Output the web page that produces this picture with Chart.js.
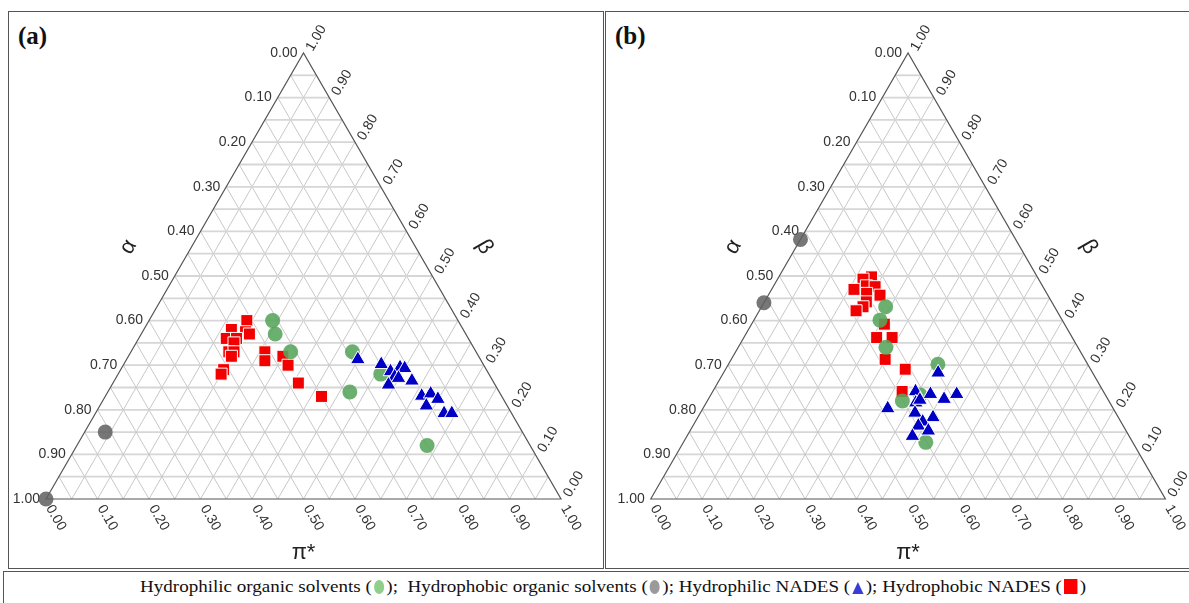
<!DOCTYPE html>
<html>
<head>
<meta charset="utf-8">
<script src="https://cdn.jsdelivr.net/npm/chart.js@4.4.0/dist/chart.umd.min.js"></script>
<style>
  body { margin: 0; width: 1189px; height: 603px; position: relative; overflow: hidden; background: #fff; }
  .panel { position: absolute; border: 1.5px solid #555; box-sizing: border-box; }
  #panelA { left: 8px; top: 11px; width: 596px; height: 558px; }
  #panelB { left: 605px; top: 11px; width: 600px; height: 558px; }
  .tag { position: absolute; top: 22px; font: bold 25px "Liberation Serif", serif; color: #111; }
  canvas { position: absolute; top: 0; }
  #legend { position: absolute; left: 3px; top: 571px; width: 1200px; height: 40px; border: 1px solid #555;
            box-sizing: border-box; font: 17px "Liberation Serif", serif; color: #111; }
  #legend span.txt { position: absolute; left: 136px; top: 5px; white-space: nowrap;
                     transform: scaleX(1.12); transform-origin: 0 50%; }
  .sym { display: inline-block; vertical-align: -2px; margin: 0 2px; }
  .dot { width: 9px; height: 14px; border-radius: 50%; }
  .tri { width: 0; height: 0; border-left: 5px solid transparent; border-right: 5px solid transparent; border-bottom: 12px solid #3b3bd8; }
  .sq { width: 12px; height: 15px; background: #f00; }
</style>
</head>
<body>
<div class="panel" id="panelA"></div>
<div class="panel" id="panelB"></div>
<div class="tag" style="left:18px">(a)</div>
<div class="tag" style="left:615px">(b)</div>
<canvas id="chartA" width="604" height="570" style="left:0"></canvas>
<canvas id="chartB" width="585" height="570" style="left:604px"></canvas>
<div id="legend"><span class="txt">Hydrophilic organic solvents (<i class="sym dot" style="background:#8fcf8a"></i>);&nbsp; Hydrophobic organic solvents (<i class="sym dot" style="background:#9a9a9a"></i>); Hydrophilic NADES (<i class="sym tri"></i>); Hydrophobic NADES (<i class="sym sq"></i>)</span></div>
<script>
// each point: [beta, piStar]  (alpha = 1 - beta - piStar)
const tickValues = [0, 0.1, 0.2, 0.3, 0.4, 0.5, 0.6, 0.7, 0.8, 0.9, 1];
const tickLabels = ["0.00", "0.10", "0.20", "0.30", "0.40", "0.50", "0.60", "0.70", "0.80", "0.90", "1.00"];

// panel (a)
const aHydrophilicSolvents = [[0.40, 0.24], [0.37, 0.26], [0.33, 0.31], [0.33, 0.43], [0.28, 0.51], [0.24, 0.47], [0.12, 0.68]];
const aHydrophobicSolvents = [[0.15, 0.04], [0.00, 0.00]];
const aHydrophilicNADES = [[0.313, 0.449], [0.302, 0.500], [0.286, 0.526], [0.295, 0.540], [0.293, 0.550], [0.274, 0.540],
  [0.271, 0.549], [0.256, 0.537], [0.265, 0.578], [0.231, 0.614], [0.236, 0.629], [0.224, 0.649], [0.209, 0.634],
  [0.192, 0.677], [0.192, 0.692]];
const aHydrophobicNADES = [[0.40, 0.19], [0.38, 0.17], [0.375, 0.20], [0.37, 0.21], [0.36, 0.17], [0.36, 0.19], [0.35, 0.19],
  [0.33, 0.19], [0.33, 0.20], [0.32, 0.20], [0.33, 0.26], [0.31, 0.27], [0.32, 0.30], [0.30, 0.32], [0.29, 0.20],
  [0.28, 0.20], [0.26, 0.36], [0.23, 0.42]];

// panel (b)
const bHydrophilicSolvents = [[0.431, 0.241], [0.401, 0.245], [0.340, 0.287], [0.302, 0.407], [0.220, 0.379], [0.233, 0.407], [0.127, 0.471]];
const bHydrophobicSolvents = [[0.582, 0.00], [0.440, 0.00]];
const bHydrophilicNADES = [[0.283, 0.417], [0.241, 0.394], [0.235, 0.426], [0.224, 0.458], [0.235, 0.477], [0.203, 0.359],
  [0.216, 0.407], [0.222, 0.412], [0.193, 0.417], [0.183, 0.457], [0.173, 0.442], [0.164, 0.438], [0.153, 0.463],
  [0.141, 0.438]];
const bHydrophobicNADES = [[0.498, 0.180], [0.493, 0.166], [0.470, 0.160], [0.478, 0.180], [0.476, 0.198], [0.461, 0.189],
  [0.457, 0.217], [0.442, 0.198], [0.431, 0.197], [0.422, 0.188], [0.392, 0.258], [0.362, 0.258], [0.362, 0.288],
  [0.313, 0.299], [0.291, 0.349], [0.241, 0.368]];

// ternary -> cartesian (unit equilateral base, height mapped by y scale)
function toXY(list) {
  return list.map(([b, p]) => ({ x: p + b / 2, y: b }));
}

const ternaryFrame = {
  id: "ternaryFrame",
  beforeDatasetsDraw(chart) {
    const { ctx, scales: { x, y } } = chart;
    const P = (b, p) => [x.getPixelForValue(p + b / 2), y.getPixelForValue(b)];
    const seg = (a, c) => { ctx.beginPath(); ctx.moveTo(a[0], a[1]); ctx.lineTo(c[0], c[1]); ctx.stroke(); };
    ctx.save();
    for (let k = 1; k < 20; k++) {
      const v = k / 20;
      ctx.strokeStyle = "#d6d6d6";
      ctx.lineWidth = 1.8;
      seg(P(v, 0), P(v, 1 - v));
      ctx.strokeStyle = "#c8c8c8";
      ctx.lineWidth = 1;
      seg(P(0, v), P(1 - v, v));
      seg(P(0, 1 - v), P(1 - v, 0));
    }
    ctx.strokeStyle = "#555";
    ctx.lineWidth = 1.2;
    ctx.beginPath();
    const c0 = P(0, 0), c1 = P(1, 0), c2 = P(0, 1);
    ctx.moveTo(c0[0], c0[1]); ctx.lineTo(c1[0], c1[1]); ctx.lineTo(c2[0], c2[1]); ctx.closePath();
    ctx.stroke();

    ctx.fillStyle = "#333";
    ctx.font = "14px 'Liberation Sans', Arial, sans-serif";
    tickValues.forEach((v, i) => {
      const t = tickLabels[i];
      // alpha on the left edge
      let pt = P(1 - v, 0);
      ctx.textAlign = "right"; ctx.textBaseline = "middle";
      ctx.fillText(t, pt[0] - 6, pt[1]);
      // beta on the right edge
      pt = P(v, 1 - v);
      ctx.save(); ctx.translate(pt[0] + 6, pt[1] - 3); ctx.rotate(-Math.PI / 3);
      ctx.textAlign = "left"; ctx.fillText(t, 0, 0); ctx.restore();
      // pi* on the bottom edge
      pt = P(0, v);
      ctx.save(); ctx.translate(pt[0] + 3, pt[1] + 7); ctx.rotate(Math.PI / 3);
      ctx.textAlign = "left"; ctx.fillText(t, 0, 0); ctx.restore();
    });

    ctx.font = "22px 'Liberation Sans', Arial, sans-serif";
    ctx.fillStyle = "#222";
    ctx.textAlign = "center"; ctx.textBaseline = "middle";
    let pt = P(0.565, 0);
    ctx.save(); ctx.translate(pt[0] - 63, pt[1]); ctx.rotate(-Math.PI / 3); ctx.fillText("α", 0, 0); ctx.restore();
    pt = P(0.565, 0.435);
    ctx.save(); ctx.translate(pt[0] + 69, pt[1]); ctx.rotate(Math.PI / 3); ctx.fillText("β", 0, 0); ctx.restore();
    pt = P(0, 0.5);
    ctx.fillText("π*", pt[0], pt[1] + 54);
    ctx.restore();
  }
};

function makeChart(id, pad, green, gray, blue, red) {
  new Chart(document.getElementById(id), {
    type: "scatter",
    data: {
      datasets: [
        { label: "Hydrophilic NADES", data: toXY(blue), pointStyle: "triangle", pointRadius: 8.5,
          backgroundColor: "#0000c4", borderColor: "#fff", borderWidth: 1, clip: false },
        { label: "Hydrophilic organic solvents", data: toXY(green), pointStyle: "circle", pointRadius: 7.5,
          backgroundColor: "rgba(88,165,92,0.88)", borderWidth: 0, clip: false },
        { label: "Hydrophobic NADES", data: toXY(red), pointStyle: "rect", pointRadius: 8.5,
          backgroundColor: "#f20000", borderColor: "#fff", borderWidth: 1, clip: false },
        { label: "Hydrophobic organic solvents", data: toXY(gray), pointStyle: "circle", pointRadius: 7.5,
          backgroundColor: "rgba(95,95,95,0.85)", borderWidth: 0, clip: false }
      ]
    },
    options: {
      responsive: false,
      animation: false,
      devicePixelRatio: 1,
      layout: { padding: pad },
      scales: {
        x: { type: "linear", min: 0, max: 1, display: false },
        y: { type: "linear", min: 0, max: 1, display: false }
      },
      plugins: { legend: { display: false }, tooltip: { enabled: false } }
    },
    plugins: [ternaryFrame]
  });
}

makeChart("chartA", { left: 46, right: 43, top: 53, bottom: 71 },
  aHydrophilicSolvents, aHydrophobicSolvents, aHydrophilicNADES, aHydrophobicNADES);
makeChart("chartB", { left: 46.7, right: 23.6, top: 53, bottom: 71 },
  bHydrophilicSolvents, bHydrophobicSolvents, bHydrophilicNADES, bHydrophobicNADES);
</script>
</body>
</html>
